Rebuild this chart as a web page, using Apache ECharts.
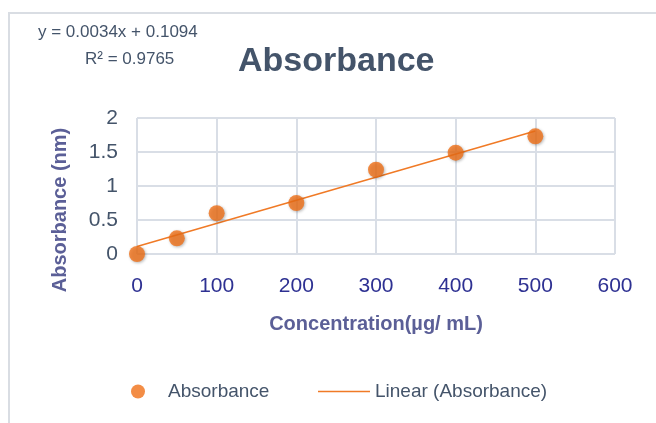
<!DOCTYPE html>
<html>
<head>
<meta charset="utf-8">
<script src="https://cdn.jsdelivr.net/npm/echarts@6/dist/echarts.min.js"></script>
<style>
  html, body { margin: 0; padding: 0; background: #fff; }
  #main { width: 656px; height: 423px; }
</style>
</head>
<body>
<div id="main"></div>
<script>
var concentration = [0, 50, 100, 200, 300, 400, 500];
var absorbance = [0.0, 0.23, 0.60, 0.75, 1.24, 1.49, 1.73];
var slope = 0.0034;
var intercept = 0.1094;
var trendX = [0, 500];

var myChart = echarts.init(document.getElementById('main'));

var pointData = concentration.map(function (c, i) { return [c, absorbance[i]]; });
var trendData = trendX.map(function (x) { return [x, slope * x + intercept]; });

var font = 'Liberation Sans, Arial, sans-serif';

option = {
    animation: false,
    textStyle: { fontFamily: font },
    graphic: [
        {
            type: 'rect',
            shape: { x: 9, y: 13, width: 660, height: 420 },
            style: { fill: 'none', stroke: '#D9DDE3', lineWidth: 2 }
        },
        {
            type: 'text', left: 38, top: 24,
            style: { text: 'y = 0.0034x + 0.1094', fill: '#44546A', font: '17px ' + font }
        },
        {
            type: 'text', left: 85, top: 51,
            style: { text: 'R² = 0.9765', fill: '#44546A', font: '17px ' + font }
        },
        {
            // y axis title, placed like the original (sits a bit lower than centre)
            type: 'text',
            x: 60, y: 210,
            rotation: Math.PI / 2,
            style: {
                text: 'Absorbance (nm)',
                fill: '#5B5F97',
                font: 'bold 20px ' + font,
                align: 'center',
                verticalAlign: 'middle'
            }
        }
    ],
    title: {
        text: 'Absorbance',
        left: 233,
        top: 40,
        textStyle: { color: '#44546A', fontSize: 34, fontWeight: 'bold', fontFamily: font }
    },
    legend: [
        {
            left: 126,
            top: 377,
            itemWidth: 14,
            itemHeight: 14,
            textStyle: { color: '#44546A', fontSize: 19, fontFamily: font, padding: [0, 0, 0, 18] },
            data: [{ name: 'Absorbance', icon: 'circle', itemStyle: { color: '#F07018' } }]
        },
        {
            left: 313,
            top: 377,
            itemWidth: 52,
            itemHeight: 14,
            textStyle: { color: '#44546A', fontSize: 19, fontFamily: font },
            data: [{ name: 'Linear (Absorbance)', icon: 'path://M0,0L100,0L100,3L0,3Z', itemStyle: { color: '#F07A26' } }]
        }
    ],
    grid: {
        left: 137,
        right: 41,
        top: 118,
        bottom: 169
    },
    xAxis: {
        type: 'value',
        min: 0,
        max: 600,
        interval: 100,
        name: 'Concentration(µg/ mL)',
        nameLocation: 'middle',
        nameGap: 60,
        nameTextStyle: { color: '#5B5F97', fontSize: 20, fontWeight: 'bold' },
        axisLine: { show: false },
        axisTick: { show: false },
        axisLabel: { color: '#2E3192', fontSize: 21, margin: 22 },
        splitLine: { lineStyle: { color: '#D9DEE6', width: 2 } }
    },
    yAxis: {
        type: 'value',
        min: 0,
        max: 2,
        interval: 0.5,
        axisLine: { show: false },
        axisTick: { show: false },
        axisLabel: { color: '#44546A', fontSize: 21, margin: 19 },
        splitLine: { lineStyle: { color: '#D9DEE6', width: 2 } }
    },
    series: [
        {
            name: 'Absorbance',
            type: 'scatter',
            data: pointData,
            symbolSize: 16,
            itemStyle: {
                color: '#F07018',
                shadowColor: 'rgba(0,0,0,0.35)',
                shadowBlur: 3,
                shadowOffsetX: 1,
                shadowOffsetY: 1
            },
            z: 3
        },
        {
            name: 'Linear (Absorbance)',
            type: 'line',
            data: trendData,
            showSymbol: false,
            symbol: 'none',
            lineStyle: { color: '#F07A26', width: 1.5 },
            itemStyle: { color: '#F07A26' },
            z: 2
        }
    ]
};

myChart.setOption(option);
</script>
</body>
</html>
